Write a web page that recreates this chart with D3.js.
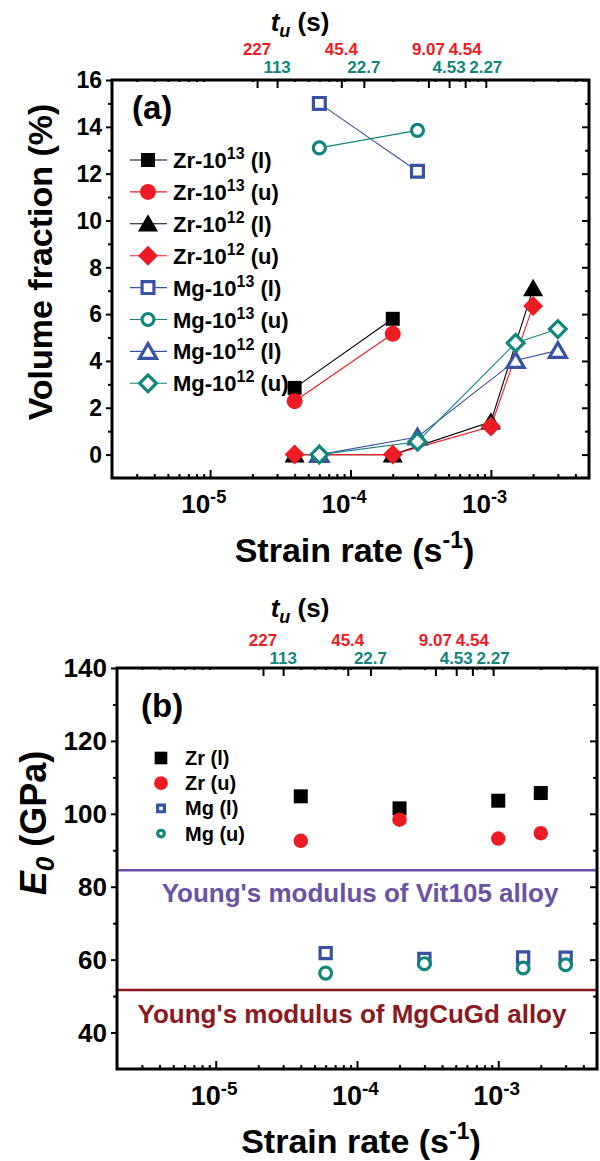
<!DOCTYPE html>
<html>
<head>
<meta charset="utf-8">
<script src="https://cdn.jsdelivr.net/npm/d3@7"></script>
<style>
body { margin: 0; background: #fff; }
svg text { font-family: "Liberation Sans", Arial, sans-serif; font-weight: bold; }
</style>
</head>
<body>
<div id="chart"></div>
<script>
// strain rates (s^-1)
const zrRate = [4e-5, 2e-4, 1e-3, 2e-3];
const mgRate = [6e-5, 3e-4, 1.5e-3, 3e-3];

// (a) volume fraction (%)
const zr13l = [2.85, 5.8];
const zr13u = [2.28, 5.16];
const zr12l = [0, 0, 1.4, 7.1];
const zr12u = [0, 0, 1.2, 6.35];
const mg13l = [15.0, 12.1];
const mg13u = [13.1, 13.85];
const mg12l = [0, 0.75, 4.02, 4.45];
const mg12u = [0, 0.55, 4.77, 5.36];

// (b) E0 (GPa)
const zrLE = [104.8, 101.5, 103.6, 105.7];
const zrUE = [92.6, 98.4, 93.2, 94.7];
const mgLE = [61.8, 60.2, 60.6, 60.5];
const mgUE = [56.3, 58.9, 57.7, 58.6];
const refE = [84.5, 51.7];
const refText = ["Young's modulus of Vit105 alloy", "Young's modulus of MgCuGd alloy"];

// top axis t_u (s)
const tuRate = [2.16e-5, 3.0e-5, 8.6e-5, 1.245e-4, 3.59e-4, 5.04e-4, 6.56e-4, 9.2e-4];
const tuLabel = ['227', '113', '45.4', '22.7', '9.07', '4.53', '4.54', '2.27'];
const tuGroup = ['zr', 'mg', 'zr', 'mg', 'zr', 'mg', 'zr', 'mg'];

const xMajor = [1e-5, 1e-4, 1e-3];
const xExp = ['-5', '-4', '-3'];

const RED = '#ed1c24', BLUE = '#3953a4', TEAL = '#12857f', BLACK = '#000';

const svg = d3.select('#chart').append('svg').attr('width', 600).attr('height', 1161);

const minors = [];
for (let e = -6; e <= -3; e++) {
	for (let k = 2; k <= 9; k++) {
		const v = k * Math.pow(10, e);
		if (v > 2.01e-6 && v < 4.99e-3) minors.push(v);
	}
}

const shapes = {
	square: d3.symbolSquare,
	circle: d3.symbolCircle,
	triangle: d3.symbolTriangle,
	diamond: d3.symbolSquare,
};

const marker = (g, shape, size, color, filled, cx, cy) => {
	g.append('path')
		.attr('d', d3.symbol(shapes[shape], size)())
		.attr('transform', `translate(${cx},${cy})` + (shape === 'diamond' ? ' rotate(45)' : '') + (shape === 'triangle' ? ' translate(0,2)' : ''))
		.attr('fill', filled ? color : '#fff')
		.attr('stroke', filled ? 'none' : color)
		.attr('stroke-width', filled ? 0 : 3.2);
};

const tickLines = (g) => {
	g.select('.domain').remove();
	g.selectAll('line').attr('stroke', '#000').attr('stroke-width', 2);
};

const drawFrame = (p, x, y) => {
	// bottom
	svg.append('g').attr('transform', `translate(0,${p.bottom})`)
		.call(d3.axisBottom(x).tickValues(minors).tickSize(-4).tickFormat('')).call(tickLines);
	svg.append('g').attr('transform', `translate(0,${p.bottom})`)
		.call(d3.axisBottom(x).tickValues(xMajor).tickSize(-8).tickFormat('')).call(tickLines);
	// top
	svg.append('g').attr('transform', `translate(0,${p.top})`)
		.call(d3.axisTop(x).tickValues(minors).tickSize(-2).tickFormat('')).call(tickLines);
	svg.append('g').attr('transform', `translate(0,${p.top})`)
		.call(d3.axisTop(x).tickValues(tuRate).tickSize(-8).tickFormat('')).call(tickLines);
	// left (outward) and right (inward)
	svg.append('g').attr('transform', `translate(${p.left},0)`)
		.call(d3.axisLeft(y).tickValues(p.yMinor).tickSize(4).tickFormat('')).call(tickLines);
	svg.append('g').attr('transform', `translate(${p.left},0)`)
		.call(d3.axisLeft(y).tickValues(p.yMajor).tickSize(6).tickFormat('')).call(tickLines);
	svg.append('g').attr('transform', `translate(${p.right},0)`)
		.call(d3.axisRight(y).tickValues(p.yMinor).tickSize(-4).tickFormat('')).call(tickLines);
	svg.append('g').attr('transform', `translate(${p.right},0)`)
		.call(d3.axisRight(y).tickValues(p.yMajor).tickSize(-7).tickFormat('')).call(tickLines);

	svg.append('rect')
		.attr('x', p.left).attr('y', p.top)
		.attr('width', p.right - p.left).attr('height', p.bottom - p.top)
		.attr('fill', 'none').attr('stroke', '#000').attr('stroke-width', 3);

	// y tick labels
	svg.append('g').selectAll('text').data(p.yMajor).join('text')
		.attr('x', p.left - 10).attr('y', (d) => y(d) + p.yFont * 0.36)
		.attr('text-anchor', 'end').attr('font-size', p.yFont)
		.text((d) => d);

	// x tick labels 10^n
	xMajor.forEach((v, i) => {
		svg.append('text').attr('x', x(v) + p.xShift).attr('y', p.bottom + p.xLabelDy)
			.attr('text-anchor', 'end').attr('font-size', p.xFont).text('10');
		svg.append('text').attr('x', x(v) + p.xShift).attr('y', p.bottom + p.xLabelDy - 10)
			.attr('font-size', p.xFont * 0.7).text(xExp[i]);
	});

	// x title
	const xt = svg.append('text').attr('x', (p.left + p.right) / 2 + 4).attr('y', p.bottom + p.xTitleDy)
		.attr('text-anchor', 'middle').attr('font-size', 34);
	xt.append('tspan').text('Strain rate (s');
	xt.append('tspan').attr('dy', -14).attr('font-size', 23).text('-1');
	xt.append('tspan').attr('dy', 14).text(')');

	// top t_u labels
	svg.append('g').selectAll('text').data(tuRate).join('text')
		.attr('x', (d) => x(d))
		.attr('y', (d, i) => (tuGroup[i] === 'zr' ? p.top - p.tuRedDy : p.top - p.tuTealDy))
		.attr('text-anchor', 'middle').attr('font-size', 17)
		.attr('fill', (d, i) => (tuGroup[i] === 'zr' ? RED : TEAL))
		.text((d, i) => tuLabel[i]);

	const tt = svg.append('text').attr('x', 300).attr('y', p.top - p.tuTitleDy)
		.attr('text-anchor', 'middle').attr('font-size', 26);
	tt.append('tspan').attr('font-style', 'italic').text('t');
	tt.append('tspan').attr('font-style', 'italic').attr('font-size', 18).attr('dy', 6).text('u');
	tt.append('tspan').attr('dy', -6).text(' (s)');

	svg.append('text').attr('x', p.left + p.tagDx).attr('y', p.top + p.tagDy)
		.attr('font-size', 33).text(p.tag);
};

// ---------- panel (a) ----------
const pa = {
	left: 112, right: 589, top: 80, bottom: 478,
	yMajor: d3.range(0, 17, 2), yMinor: d3.range(1, 16, 2),
	yFont: 23, xFont: 26, xShift: 0, xLabelDy: 35, xTitleDy: 84,
	tuRedDy: 25, tuTealDy: 7, tuTitleDy: 49, tag: '(a)', tagDx: 20, tagDy: 39,
};
const xa = d3.scaleLog().domain([2e-6, 5e-3]).range([pa.left, pa.right]);
const ya = d3.scaleLinear().domain([-1, 16]).range([pa.bottom, pa.top]);
drawFrame(pa, xa, ya);

svg.append('text')
	.attr('transform', `translate(52,262) rotate(-90)`)
	.attr('text-anchor', 'middle').attr('font-size', 34)
	.text('Volume fraction (%)');

const seriesA = [
	{ mat: 'Zr', exp: '13', tag: '(l)', rate: zrRate, v: zr13l, color: BLACK, shape: 'square', filled: true, size: 196 },
	{ mat: 'Zr', exp: '13', tag: '(u)', rate: zrRate, v: zr13u, color: RED, shape: 'circle', filled: true, size: 200 },
	{ mat: 'Zr', exp: '12', tag: '(l)', rate: zrRate, v: zr12l, color: BLACK, shape: 'triangle', filled: true, size: 175 },
	{ mat: 'Zr', exp: '12', tag: '(u)', rate: zrRate, v: zr12u, color: RED, shape: 'diamond', filled: true, size: 200 },
	{ mat: 'Mg', exp: '13', tag: '(l)', rate: mgRate, v: mg13l, color: BLUE, shape: 'square', filled: false, size: 140 },
	{ mat: 'Mg', exp: '13', tag: '(u)', rate: mgRate, v: mg13u, color: TEAL, shape: 'circle', filled: false, size: 113 },
	{ mat: 'Mg', exp: '12', tag: '(l)', rate: mgRate, v: mg12l, color: BLUE, shape: 'triangle', filled: false, size: 125 },
	{ mat: 'Mg', exp: '12', tag: '(u)', rate: mgRate, v: mg12u, color: TEAL, shape: 'diamond', filled: false, size: 140 },
];

const lineA = (s) => d3.line().x((d, i) => xa(s.rate[i])).y((d) => ya(d))(s.v);

const gA = svg.append('g');
seriesA.forEach((s) => {
	gA.append('path').attr('d', lineA(s)).attr('fill', 'none').attr('stroke', s.color).attr('stroke-width', 1.1);
});
seriesA.forEach((s) => {
	s.v.forEach((d, i) => marker(gA, s.shape, s.size, s.color, s.filled, xa(s.rate[i]), ya(d)));
});

// legend (a)
seriesA.forEach((s, i) => {
	const cy = 160 + i * 31.9;
	svg.append('line').attr('x1', 130).attr('x2', 167).attr('y1', cy).attr('y2', cy)
		.attr('stroke', s.color).attr('stroke-width', 1.1);
	marker(svg, s.shape, s.size, s.color, s.filled, 148, cy);
	const t = svg.append('text').attr('x', 173).attr('y', cy + 8).attr('font-size', 22);
	t.append('tspan').text(s.mat + '-10');
	t.append('tspan').attr('dy', -9).attr('font-size', 16).text(s.exp);
	t.append('tspan').attr('dy', 9).text(' ' + s.tag);
});

// ---------- panel (b) ----------
const pb = {
	left: 117, right: 597, top: 668, bottom: 1069,
	yMajor: d3.range(40, 141, 20), yMinor: d3.range(50, 131, 20),
	yFont: 26, xFont: 27, xShift: 5, xLabelDy: 36, xTitleDy: 84,
	tuRedDy: 22, tuTealDy: 4, tuTitleDy: 51, tag: '(b)', tagDx: 24, tagDy: 49,
};
const xb = d3.scaleLog().domain([2e-6, 5e-3]).range([pb.left, pb.right]);
const yb = d3.scaleLinear().domain([30, 140]).range([pb.bottom, pb.top]);

// reference lines
const refColor = ['#6a53a6', '#8b1a1f'];
const refTextX = [360, 352];
const refTextDy = [32, 33];
refE.forEach((v, i) => {
	svg.append('line').attr('x1', pb.left).attr('x2', pb.right).attr('y1', yb(v)).attr('y2', yb(v))
		.attr('stroke', refColor[i]).attr('stroke-width', 2.5);
	svg.append('text').attr('x', refTextX[i]).attr('y', yb(v) + refTextDy[i])
		.attr('text-anchor', 'middle').attr('font-size', 26).attr('fill', refColor[i])
		.text(refText[i]);
});

drawFrame(pb, xb, yb);

const yt = svg.append('text')
	.attr('transform', `translate(46,823) rotate(-90)`)
	.attr('text-anchor', 'middle').attr('font-size', 36);
yt.append('tspan').attr('font-style', 'italic').text('E');
yt.append('tspan').attr('font-style', 'italic').attr('font-size', 26).attr('dy', 8).text('0');
yt.append('tspan').attr('dy', -8).text(' (GPa)');

const seriesB = [
	{ name: 'Zr (l)', rate: zrRate, v: zrLE, color: BLACK, shape: 'square', filled: true, size: 196, lsize: 160 },
	{ name: 'Zr (u)', rate: zrRate, v: zrUE, color: RED, shape: 'circle', filled: true, size: 165, lsize: 150 },
	{ name: 'Mg (l)', rate: mgRate, v: mgLE, color: BLUE, shape: 'square', filled: false, size: 125, lsize: 45 },
	{ name: 'Mg (u)', rate: mgRate, v: mgUE, color: TEAL, shape: 'circle', filled: false, size: 110, lsize: 35 },
];

const gB = svg.append('g');
seriesB.forEach((s) => {
	s.v.forEach((d, i) => marker(gB, s.shape, s.size, s.color, s.filled, xb(s.rate[i]), yb(d)));
});

seriesB.forEach((s, i) => {
	const cy = 758 + i * 25.2;
	marker(svg, s.shape, s.lsize, s.color, s.filled, 161, cy);
	svg.append('text').attr('x', 185).attr('y', cy + 7).attr('font-size', 20).text(s.name);
});
</script>
</body>
</html>
